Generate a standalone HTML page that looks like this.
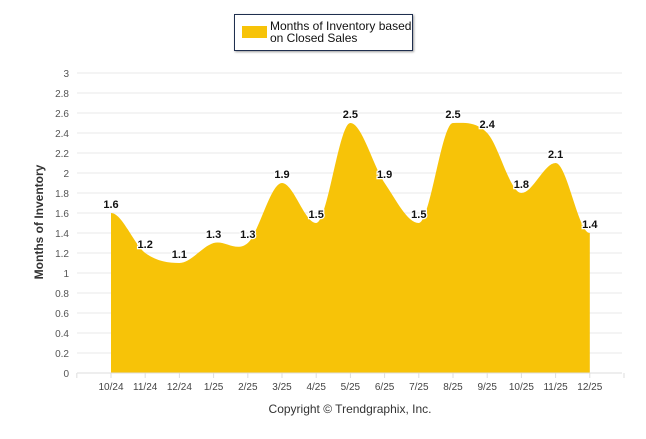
<!DOCTYPE html>
<html><head><meta charset="utf-8"><style>
body{margin:0;background:#fff;font-family:"Liberation Sans",sans-serif}
svg text{font-family:"Liberation Sans",sans-serif}
</style></head><body>
<svg id="c" width="646" height="434">
<g id="grid"></g>
<path id="area" fill="#f7c308"/>
<g id="ticks"></g>
<g id="labels"></g>
<text x="43" y="222" transform="rotate(-90 43 222)" text-anchor="middle" font-size="12" font-weight="bold" fill="#333">Months of Inventory</text>
<text x="350" y="413" text-anchor="middle" font-size="12" fill="#333">Copyright © Trendgraphix, Inc.</text>
<g>
<rect x="234.5" y="14.5" width="178" height="36" fill="#fff" stroke="#1f2f4f" stroke-width="1" style="filter:drop-shadow(1px 1px 1px #999)"/>
<rect x="242" y="26" width="25" height="12" fill="#f7c308"/>
<text x="270" y="30" font-size="12" fill="#111"><tspan x="270" y="30">Months of Inventory based</tspan><tspan x="270" y="42">on Closed Sales</tspan></text>
</g>
</svg>
<script>
const categories=["10/24","11/24","12/24","1/25","2/25","3/25","4/25","5/25","6/25","7/25","8/25","9/25","10/25","11/25","12/25"];
const values=[1.6,1.2,1.1,1.3,1.3,1.9,1.5,2.5,1.9,1.5,2.5,2.4,1.8,2.1,1.4];
const yTicks=[0,0.2,0.4,0.6,0.8,1,1.2,1.4,1.6,1.8,2,2.2,2.4,2.6,2.8,3];
const NS="http://www.w3.org/2000/svg";
const x0=111,dx=34.2,yb=373,yt=73,ymax=3;
const X=i=>x0+i*dx, Y=v=>yb-(v/ymax)*(yb-yt);
function mk(tag,attrs,parent,txt){const e=document.createElementNS(NS,tag);for(const k in attrs)e.setAttribute(k,attrs[k]);if(txt!==undefined)e.textContent=txt;parent.appendChild(e);return e;}
const grid=document.getElementById('grid'),ticks=document.getElementById('ticks'),labels=document.getElementById('labels');
yTicks.forEach(t=>{
 const l=mk('line',{x1:77,x2:622,y1:Y(t),y2:Y(t),stroke:'#e8e8e8'},grid);
 
 
 const tx=mk('text',{x:69,y:Y(t)+4,'text-anchor':'end','font-size':'10',fill:'#555'},ticks,String(t));
 
 
});
for(let i=-1;i<=categories.length;i++){mk('line',{x1:X(i),x2:X(i),y1:yb,y2:yb+5,stroke:'#ddd'},ticks);}
categories.forEach((c,i)=>{
 const t=mk('text',{x:X(i),y:yb+17,'text-anchor':'middle','font-size':'10',fill:'#444'},ticks,c);
 
 
});
const pts=values.map((v,i)=>[X(i),Y(v)]);
let d=`M${pts[0][0]},${yb} L${pts[0][0]},${pts[0][1]}`;
const s=1.5;
for(let i=0;i<pts.length-1;i++){
 const p0=pts[i-1]||pts[i],p1=pts[i],p2=pts[i+1],p3=pts[i+2]||p2;
 let c1x=p1[0]+dx/3,c2x=p2[0]-dx/3;
 let c1y,c2y;
 const a=(p0[1]<p1[1]&&p2[1]<p1[1])||(p0[1]>p1[1]&&p2[1]>p1[1])||i==0?0:(p2[1]-p0[1])/(p2[0]-p0[0])*dx/s/2*1;
 const b=(p1[1]<p2[1]&&p3[1]<p2[1])||(p1[1]>p2[1]&&p3[1]>p2[1])||i==pts.length-2?0:(p3[1]-p1[1])/(p3[0]-p1[0])*dx/s/2*1;
 c1y=p1[1]+a;c2y=p2[1]-b;
 d+=` C${c1x},${c1y} ${c2x},${c2y} ${p2[0]},${p2[1]}`;
}
d+=` L${pts[pts.length-1][0]},${yb} Z`;
document.getElementById('area').setAttribute('d',d);
mk('line',{x1:77,x2:622,y1:yb,y2:yb,stroke:'#ddd'},ticks);
values.forEach((v,i)=>{
 const t=mk('text',{x:X(i),y:Y(v)-5,'text-anchor':'middle','font-size':'11','font-weight':'bold',fill:'#111',stroke:'#fff','stroke-width':'2.5','paint-order':'stroke'},labels,v.toFixed(1));
 
 
});
</script>
</body></html>
